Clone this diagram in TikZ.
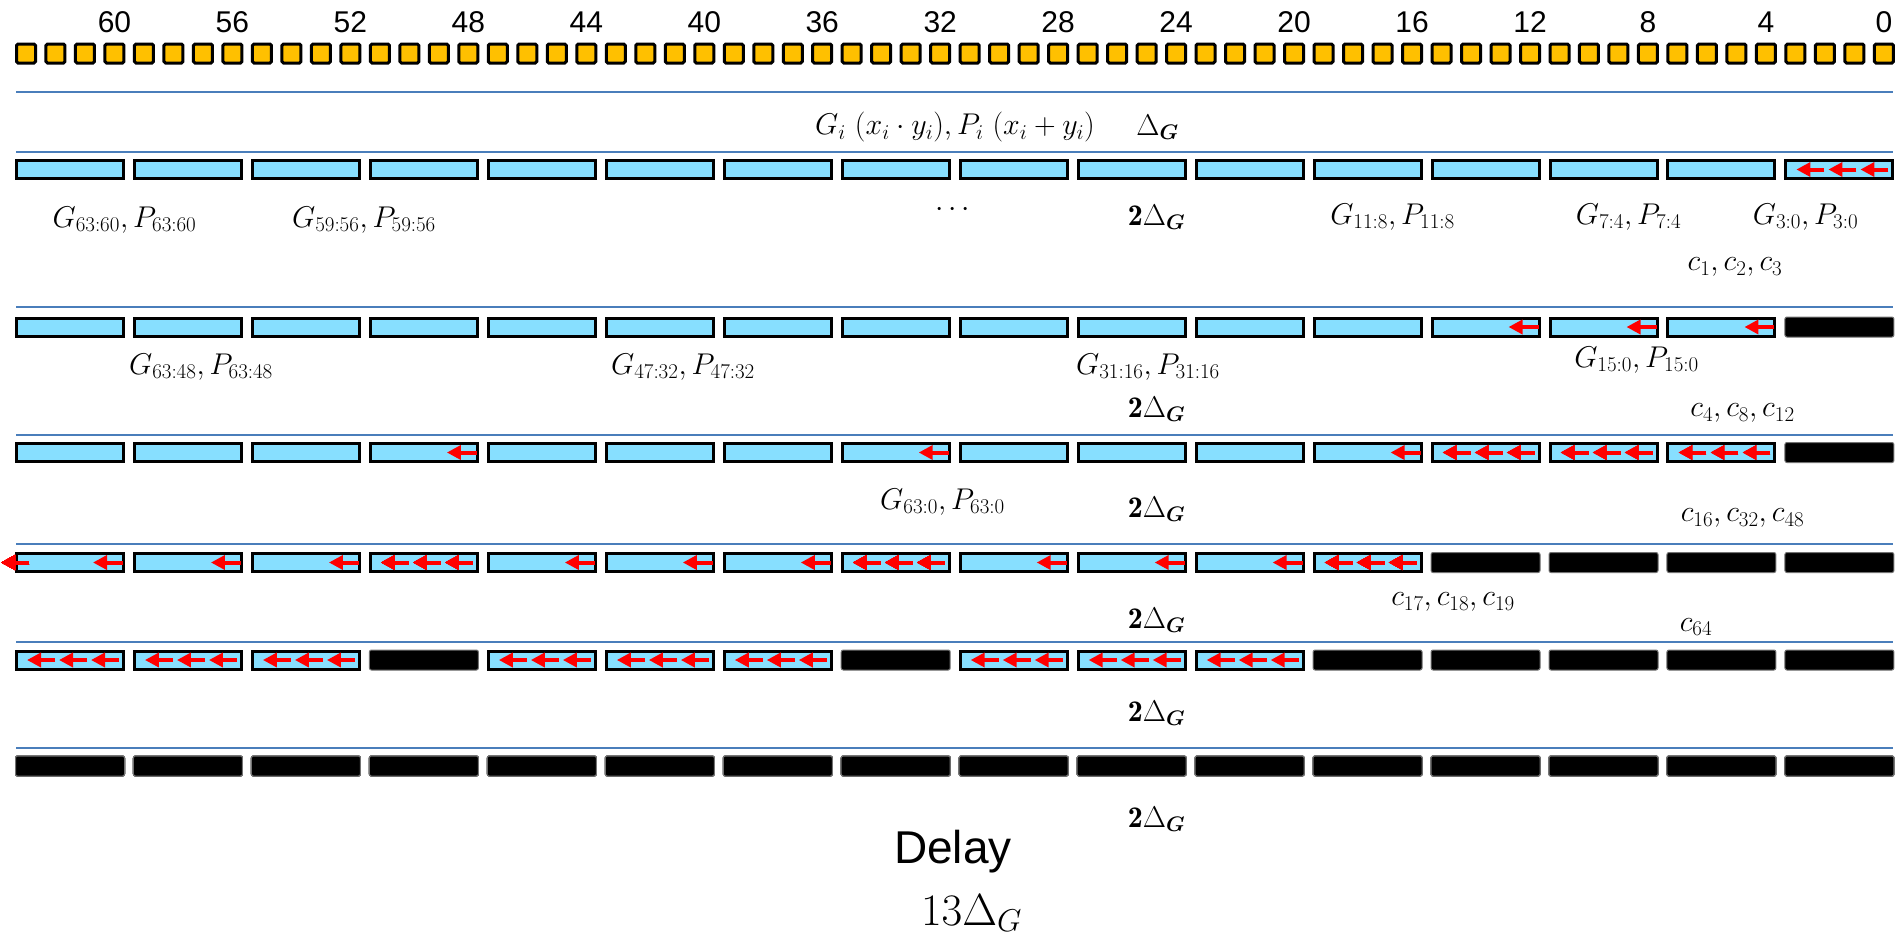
\RequirePackage{fix-cm}
\documentclass[tikz,border=0pt]{standalone}
\usepackage{amsmath,amssymb}
\usepackage{fontspec}
\newfontfamily\arialfont{Liberation Sans}
\usetikzlibrary{arrows.meta,calc,positioning}
\definecolor{sqorange}{RGB}{255,192,0}
\definecolor{blkcyan}{RGB}{135,223,255}
\definecolor{rulblue}{RGB}{74,126,187}
\tikzset{bitsq/.style={rectangle,draw=black,fill=sqorange,line width=3pt,minimum size=19pt,inner sep=0pt,rounded corners=1.5pt}}
\tikzset{gpblk/.style={rectangle,draw=black,fill=blkcyan,line width=3pt,minimum width=107pt,minimum height=18pt,inner sep=0pt}}
\tikzset{offblk/.style={rectangle,draw=black!55,fill=black,line width=1pt,minimum width=109pt,minimum height=20pt,inner sep=0pt,rounded corners=2pt}}
\tikzset{carry/.style={draw=red,line width=4pt,-{Triangle[length=14pt,width=14pt]}}}
\tikzset{stage/.style={draw=rulblue,line width=2pt}}
\tikzset{mlbl/.style={inner sep=0pt,font=\fontsize{30}{36}\selectfont}}
\tikzset{numlbl/.style={inner sep=0pt,font=\arialfont\fontsize{30}{36}\selectfont}}
\newcommand{\onecarry}[1]{\draw[carry] ($(#1.east)+(-2,0)$) -- ++(-30,0);}
\newcommand{\threecarry}[1]{\foreach \t in {0,1,2}{\draw[carry] ($(#1.east)+({-6-32*\t},0)$) -- ++(-28,0);}}
\newcommand{\gp}[1]{G_{#1}, P_{#1}}
\begin{document}
\begin{tikzpicture}[x=1pt,y=-1pt]
\useasboundingbox (0,0) rectangle (1897,940);

% input bits
\foreach \k in {0,...,63}
	\node [bitsq] (sq\k) at ({26+\k*29.49},53.5) {};
\foreach \b in {60,56,...,0}{
	\pgfmathtruncatemacro{\k}{63-\b}
	\node [numlbl,above=10pt of sq\k] (bit\b) {\b};
}

% stage rules
\foreach \y in {92,152,307,434.5,544,642,748}
	\draw [stage] (16,\y) -- (1893,\y);

% row 1
\foreach \j in {0,...,15}
	\node [gpblk] (a\j) at ({70+\j*117.96},169.5) {};
\threecarry{a15}
% row 2
\foreach \j in {0,...,14}
	\node [gpblk] (b\j) at ({70+\j*117.96},327) {};
\node [offblk] (b15) at ({70+15*117.96},327) {};
\foreach \j in {12,13,14} \onecarry{b\j}
% row 3
\foreach \j in {0,...,14}
	\node [gpblk] (c\j) at ({70+\j*117.96},452.5) {};
\node [offblk] (c15) at ({70+15*117.96},452.5) {};
\foreach \j in {3,7,11} \onecarry{c\j}
\foreach \j in {12,13,14} \threecarry{c\j}
% row 4
\foreach \j in {0,...,11}
	\node [gpblk] (d\j) at ({70+\j*117.96},562.5) {};
\foreach \j in {12,...,15}
	\node [offblk] (d\j) at ({70+\j*117.96},562.5) {};
\foreach \j in {0,1,2,4,5,6,8,9,10} \onecarry{d\j}
\foreach \j in {3,7,11} \threecarry{d\j}
\draw [carry] ($(d0.west)+(14,0)$) -- ++(-28,0);
% row 5
\foreach \j in {0,1,2,4,5,6,8,9,10}
	\node [gpblk] (e\j) at ({70+\j*117.96},660) {};
\foreach \j in {3,7,11,12,13,14,15}
	\node [offblk] (e\j) at ({70+\j*117.96},660) {};
\foreach \j in {0,1,2,4,5,6,8,9,10} \threecarry{e\j}
% row 6
\foreach \j in {0,...,15}
	\node [offblk] (f\j) at ({70+\j*117.96},766) {};

% labels
\node [mlbl] (gpdef) at (955,127) {$G_i\ (x_i\cdot y_i), P_i\ (x_i+y_i)$};
\node [mlbl] (dg0) at (1157.5,127) {$\Delta_{\boldsymbol{G}}$};
\node [mlbl] (g6360) at (124.5,220) {$\gp{63{:}60}$};
\node [mlbl] (g5956) at (364,220) {$\gp{59{:}56}$};
\node [mlbl] (dots) at (955,210) {$\cdots$};
\node [mlbl] (g118) at (1392.5,217) {$\gp{11{:}8}$};
\node [mlbl] (g74) at (1628.5,217) {$\gp{7{:}4}$};
\node [mlbl] (g30) at (1805.5,217) {$\gp{3{:}0}$};
\node [mlbl] (c123) at (1735,267) {$c_1, c_2, c_3$};
\node [mlbl] (g6348) at (201,367) {$\gp{63{:}48}$};
\node [mlbl] (g4732) at (683,367) {$\gp{47{:}32}$};
\node [mlbl] (g3116) at (1148,367) {$\gp{31{:}16}$};
\node [mlbl] (g150) at (1636.5,360) {$\gp{15{:}0}$};
\node [mlbl] (c4812) at (1742.5,413) {$c_4, c_8, c_{12}$};
\node [mlbl] (g630) at (942.5,502) {$\gp{63{:}0}$};
\node [mlbl] (c163248) at (1742.5,518) {$c_{16}, c_{32}, c_{48}$};
\node [mlbl] (c171819) at (1453,602) {$c_{17}, c_{18}, c_{19}$};
\node [mlbl] (c64) at (1696,627) {$c_{64}$};
\foreach \y/\n in {217/1,409/2,509/3,620/4,713/5,819/6}
	\node [mlbl] (twodg\n) at (1156.5,\y) {$\mathbf{2}\Delta_{\boldsymbol{G}}$};

% total
\node [inner sep=0pt,font=\arialfont\fontsize{46}{55}\selectfont] (delay) at (953,852) {Delay};
\node [inner sep=0pt,font=\fontsize{45}{54}\selectfont] (total) at (971.5,913) {$13\Delta_G$};
\end{tikzpicture}
\end{document}
